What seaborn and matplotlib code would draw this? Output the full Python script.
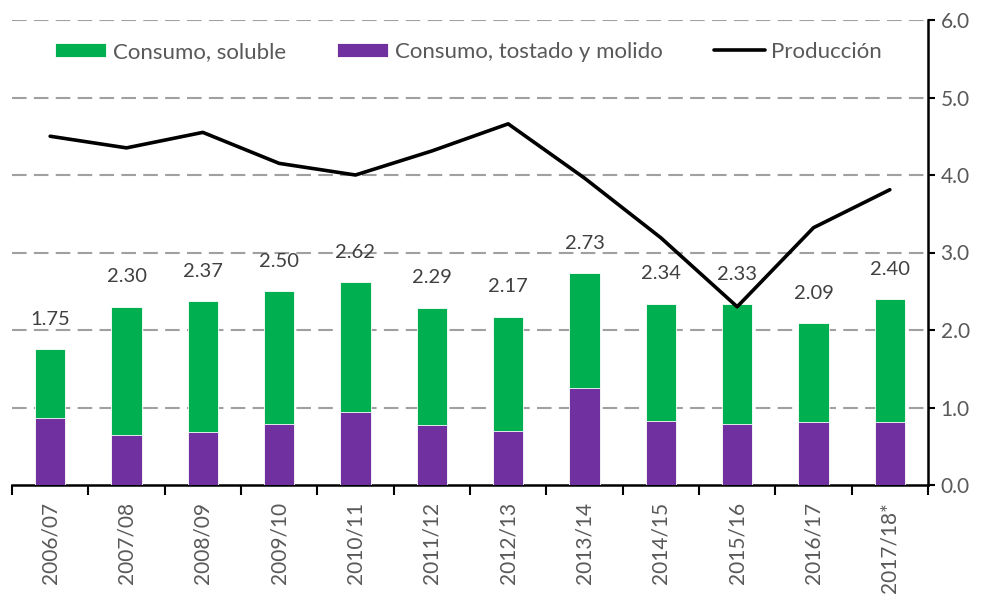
import numpy as np
import pandas as pd
import matplotlib
matplotlib.use("Agg")
import matplotlib.pyplot as plt
import seaborn as sns
from matplotlib.ticker import FixedLocator, FormatStrFormatter

# ---- data ----
categories = ["2006/07", "2007/08", "2008/09", "2009/10", "2010/11", "2011/12",
              "2012/13", "2013/14", "2014/15", "2015/16", "2016/17", "2017/18*"]
total_consumo = [1.75, 2.30, 2.37, 2.50, 2.62, 2.29, 2.17, 2.73, 2.34, 2.33, 2.09, 2.40]
tostado_molido = [0.86, 0.64, 0.69, 0.79, 0.94, 0.77, 0.70, 1.25, 0.83, 0.79, 0.81, 0.81]
soluble = [round(t - r, 2) for t, r in zip(total_consumo, tostado_molido)]
produccion = [4.50, 4.35, 4.55, 4.15, 4.00, 4.31, 4.66, 3.96, 3.19, 2.30, 3.32, 3.81]
y_ticks = [0.0, 1.0, 2.0, 3.0, 4.0, 5.0, 6.0]

df = pd.DataFrame({"cat": categories, "total": total_consumo,
                   "tostado": tostado_molido, "prod": produccion})

GREEN = "#00B050"
PURPLE = "#7030A0"
TXT = "#595959"

sns.set_theme(style="white")
plt.rcParams["font.family"] = ["Lato", "DejaVu Sans"]

fig = plt.figure(figsize=(9.82, 5.95), dpi=100)
ax = fig.add_axes([12 / 982, 1 - 485 / 595, 916 / 982, 465 / 595])

# gridlines
for yv in y_ticks[1:]:
    ax.axhline(yv, color="#A0A0A0", lw=1.5, ls=(0, (7, 3.5)), zorder=0)

# stacked bars: total (green) then roasted (purple) on top
sns.barplot(data=df, x="cat", y="total", color=GREEN, width=0.4, ax=ax,
            label="Consumo, soluble", edgecolor="white", linewidth=0.6,
            saturation=1, zorder=2)
sns.barplot(data=df, x="cat", y="tostado", color=PURPLE, width=0.4, ax=ax,
            label="Consumo, tostado y molido", edgecolor="white", linewidth=0.6,
            saturation=1, zorder=3)

pos = np.arange(len(categories))
sns.lineplot(x=pos, y=df["prod"].values, color="black", lw=2.6, ax=ax,
             label="Producción", zorder=4, sort=False)

# data labels
for i, t in enumerate(total_consumo):
    ax.annotate(f"{t:.2f}", (i, t), xytext=(0, 21.5), textcoords="offset points",
                ha="center", va="center", fontsize=14.5, color="#404040")

ax.set_xlim(-0.5, len(categories) - 0.5)
ax.set_ylim(0, 6)
ax.set_xlabel("")
ax.set_ylabel("")

# y axis on right
ax.yaxis.tick_right()
ax.yaxis.set_major_locator(FixedLocator(y_ticks))
ax.yaxis.set_major_formatter(FormatStrFormatter("%.1f"))
ax.tick_params(axis="y", which="major", right=True, length=5, width=1.5,
               color="black", pad=4, labelsize=15, labelcolor=TXT, direction="out")

# x ticks
ax.set_xticks(pos)
ax.set_xticklabels(categories, rotation=90)
ax.xaxis.set_minor_locator(FixedLocator(np.arange(-0.5, len(categories), 1.0)))
ax.tick_params(axis="x", which="major", bottom=True, length=0, pad=12,
               labelsize=15, labelcolor=TXT)
ax.tick_params(axis="x", which="minor", bottom=True, length=7, width=1.5,
               color="black", direction="out")

for s in ["top", "left"]:
    ax.spines[s].set_visible(False)
for s in ["right", "bottom"]:
    ax.spines[s].set_visible(True)
    ax.spines[s].set_color("black")
    ax.spines[s].set_linewidth(1.8)

# legend (order: soluble, tostado, producción)
handles, labels = ax.get_legend_handles_labels()
order = ["Consumo, soluble", "Consumo, tostado y molido", "Producción"]
hmap = dict(zip(labels, handles))
leg = ax.legend([hmap[l] for l in order], order, loc="center left",
                bbox_to_anchor=(0.047, 0.932),
                ncol=3, frameon=False, fontsize=16, handlelength=2.3,
                handleheight=0.6, handletextpad=0.3, columnspacing=2.3,
                borderaxespad=0, borderpad=0)
for t in leg.get_texts():
    t.set_color(TXT)

fig.savefig("out.png", dpi=100)
